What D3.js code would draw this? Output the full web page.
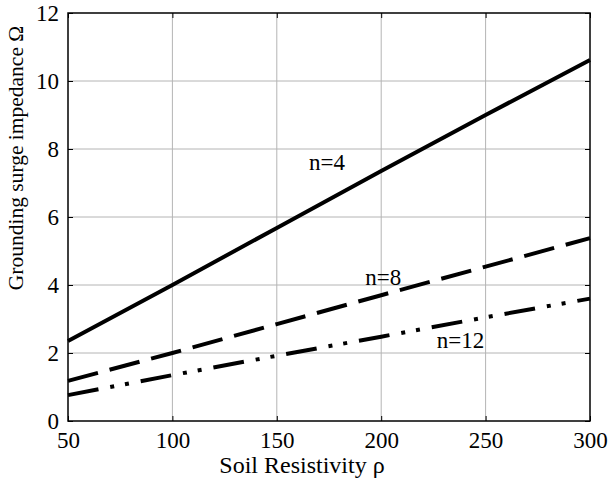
<!DOCTYPE html>
<meta charset="utf-8">
<style>
body { margin: 0; background: #fff; }
svg text { font-family: "Liberation Serif", "Times New Roman", Times, serif; fill: #000; }
.grid line { stroke: #b4b4b4; stroke-width: 1; }
.axis path, .axis line { stroke: #000; }
</style>
<svg></svg>
<script src="https://cdn.jsdelivr.net/npm/d3@7"></script>
<script>
// data
var rho = [50, 100, 150, 200, 250, 300];
var n4  = [2.35, 4.0, 5.68, 7.35, 9.0, 10.62];
var n8  = [1.18, 2.0, 2.85, 3.7, 4.54, 5.38];
var n12 = [0.76, 1.35, 1.92, 2.48, 3.05, 3.6];
var xTicks = [50, 100, 150, 200, 250, 300];
var yTicks = [0, 2, 4, 6, 8, 10, 12];

var W = 616, H = 481,
    margin = {top: 13, right: 26, bottom: 60, left: 68},
    width = W - margin.left - margin.right,
    height = H - margin.top - margin.bottom;

var svg = d3.select("svg").attr("width", W).attr("height", H);

var x = d3.scaleLinear().domain([50, 300]).range([0, width]),
    y = d3.scaleLinear().domain([0, 12]).range([height, 0]);

var g = svg.append("g")
    .attr("transform", "translate(" + margin.left + "," + margin.top + ")");

// grid
g.append("g").attr("class", "grid")
  .selectAll("line").data(xTicks.slice(1, -1)).enter().append("line")
    .attr("x1", x).attr("x2", x).attr("y1", 0).attr("y2", height);
g.append("g").attr("class", "grid")
  .selectAll("line").data(yTicks.slice(1, -1)).enter().append("line")
    .attr("y1", y).attr("y2", y).attr("x1", 0).attr("x2", width);

// axes with inward ticks
function clean(a) {
  a.select(".domain").remove();
  a.attr("font-family", null).attr("font-size", 23);
}
g.append("g").attr("class", "axis")
    .attr("transform", "translate(0," + height + ")")
    .call(d3.axisBottom(x).tickValues(xTicks).tickSizeInner(-5).tickSizeOuter(0).tickPadding(11))
    .call(clean);
g.append("g").attr("class", "axis")
    .call(d3.axisLeft(y).tickValues(yTicks).tickSizeInner(-5).tickSizeOuter(0).tickPadding(9))
    .call(clean);
g.append("g").attr("class", "axis")
    .attr("transform", "translate(" + width + ",0)")
    .call(d3.axisRight(y).tickValues(yTicks).tickSizeInner(-5).tickSizeOuter(0).tickFormat(""))
    .call(clean);
g.append("g").attr("class", "axis")
    .call(d3.axisTop(x).tickValues(xTicks).tickSizeInner(-5).tickSizeOuter(0).tickFormat(""))
    .call(clean);

// frame
g.append("rect")
    .attr("width", width).attr("height", height)
    .attr("fill", "none").attr("stroke", "#000").attr("stroke-width", 1.5);

// lines
var series = [
  {vals: n4,  dash: null},
  {vals: n8,  dash: "31,12"},
  {vals: n12, dash: "31,12,4,11,4,12"}
];
var line = d3.line()
    .x(function(d, i) { return x(rho[i]); })
    .y(function(d) { return y(d); });
g.selectAll(".series").data(series).enter().append("path")
    .attr("class", "series")
    .attr("d", function(s) { return line(s.vals); })
    .attr("fill", "none")
    .attr("stroke", "#000")
    .attr("stroke-width", 4)
    .attr("stroke-dasharray", function(s) { return s.dash; });

// labels
var labels = [
  {t: "n=4",  rx: 174, ry: 7.38},
  {t: "n=8",  rx: 201, ry: 4.0},
  {t: "n=12", rx: 238, ry: 2.15}
];
g.selectAll(".lab").data(labels).enter().append("text")
    .attr("class", "lab")
    .attr("x", function(d) { return x(d.rx); })
    .attr("y", function(d) { return y(d.ry); })
    .attr("text-anchor", "middle")
    .attr("font-size", 23)
    .text(function(d) { return d.t; });

// axis titles
svg.append("text")
    .attr("x", 302)
    .attr("y", 473)
    .attr("text-anchor", "middle")
    .attr("font-size", 24)
    .text("Soil Resistivity ρ");
svg.append("text")
    .attr("transform", "translate(23,158) rotate(-90)")
    .attr("text-anchor", "middle")
    .attr("font-size", 21.5)
    .text("Grounding surge impedance Ω");
</script>
